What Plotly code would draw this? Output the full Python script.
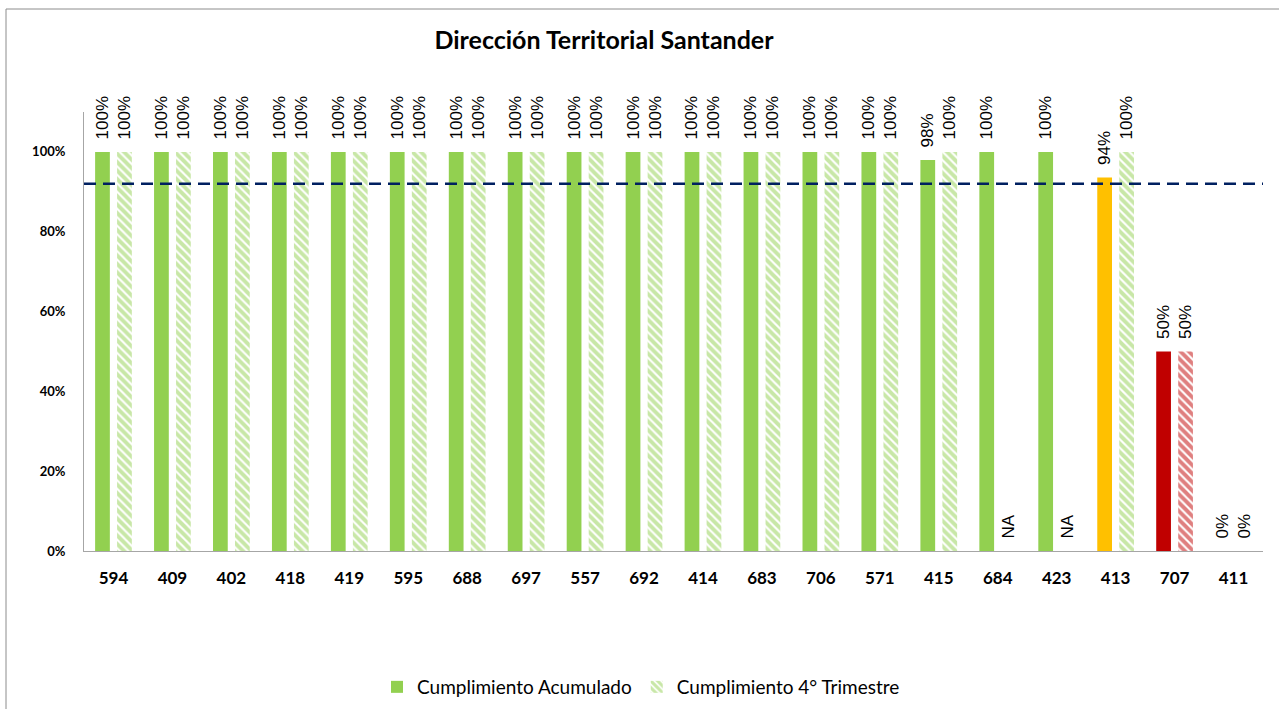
import plotly.graph_objects as go

# ---- data ----
categorias = ["594", "409", "402", "418", "419", "595", "688", "697", "557", "692",
              "414", "683", "706", "571", "415", "684", "423", "413", "707", "411"]
acumulado = [1.0, 1.0, 1.0, 1.0, 1.0, 1.0, 1.0, 1.0, 1.0, 1.0,
             1.0, 1.0, 1.0, 1.0, 0.98, 1.0, 1.0, 0.936, 0.50, 0.0]
trimestre4 = [1.0, 1.0, 1.0, 1.0, 1.0, 1.0, 1.0, 1.0, 1.0, 1.0,
              1.0, 1.0, 1.0, 1.0, 1.0, None, None, 1.0, 0.50, 0.0]
meta = 0.92
y_ticks = [0, 0.2, 0.4, 0.6, 0.8, 1.0]
y_tick_labels = ["0%", "20%", "40%", "60%", "80%", "100%"]

VERDE = "#92D050"
NARANJA = "#FFC000"
ROJO = "#C00000"


def color_acum(v):
    if v >= 0.95:
        return VERDE
    if v >= 0.9:
        return NARANJA
    return ROJO


def color_trim(v):
    if v is None or v >= 0.9:
        return VERDE
    return ROJO


PAD = "\u00a0\u00a0"


def etiqueta(v):
    return PAD + ("NA" if v is None else f"{v:.0%}")


W, H = 1279, 709
L, R, T, B = 84, 16, 112, 158
pw = W - L - R
ph = H - T - B

LABEL_FONT = dict(family="Liberation Sans", size=17, color="black")

fig = go.Figure()
fig.add_trace(go.Bar(
    x=categorias, y=acumulado, name="Cumplimiento Acumulado",
    marker=dict(color=[color_acum(v) for v in acumulado], line=dict(width=0)),
    text=[etiqueta(v) for v in acumulado], textposition="outside", textangle=-90,
    constraintext="none", textfont=LABEL_FONT, cliponaxis=False,
))
fig.add_trace(go.Bar(
    x=categorias, y=[0 if v is None else v for v in trimestre4],
    name="Cumplimiento 4° Trimestre",
    marker=dict(color="white",
                line=dict(width=0),
                pattern=dict(shape="\\", fgcolor=[color_trim(v) for v in trimestre4],
                             bgcolor="white", size=6, solidity=0.65, fillmode="overlay")),
    text=[etiqueta(v) for v in trimestre4], textposition="outside", textangle=-90,
    constraintext="none", textfont=LABEL_FONT, cliponaxis=False,
))

# target line
fig.add_shape(type="line", xref="paper", yref="y", x0=0, x1=1, y0=meta, y1=meta,
              line=dict(color="#002060", width=2.5, dash="12px,7px"))

# outer border
fig.add_shape(type="rect", xref="paper", yref="paper",
              x0=(6 - L) / pw, x1=(W + 20 - L) / pw,
              y0=(H - B - (H + 20)) / ph, y1=(H - B - 9) / ph,
              line=dict(color="#8C8C8C", width=1), fillcolor="rgba(0,0,0,0)", layer="below")

fig.update_layout(
    width=W, height=H,
    margin=dict(l=L, r=R, t=T, b=B, autoexpand=False),
    paper_bgcolor="white", plot_bgcolor="white",
    barmode="group", bargap=0.254, bargroupgap=0.33,
    font=dict(family="Lato", color="black"),
    title=dict(text="<b>Dirección Territorial Santander</b>", font=dict(family="Lato", size=25, color="black"),
               xref="paper", x=(604 - L) / pw, xanchor="center",
               yref="container", y=1 - 40 / H, yanchor="middle", automargin=False),
    showlegend=True,
    legend=dict(orientation="h", xref="paper", x=(397 - 20 - L) / pw, xanchor="left",
                y=(H - B - 687) / ph, yanchor="middle",
                font=dict(family="Lato", size=19, color="black"),
                itemwidth=30),
    xaxis=dict(showline=True, linecolor="#A6A6A6", linewidth=1, ticks="",
               tickfont=dict(family="Lato", size=17, color="black"),
               showgrid=False, tickprefix="<b>", ticksuffix="</b>",
               ticklabelstandoff=12, automargin=False),
    yaxis=dict(range=[0, 1.1], tickvals=y_ticks, ticktext=[f"<b>{t}</b>" for t in y_tick_labels],
               showline=True, linecolor="#A6A6A6", linewidth=1, showgrid=False, zeroline=False,
               ticks="", ticklabelstandoff=15, automargin=False,
               tickfont=dict(family="Lato", size=13, color="black")),
)

fig.write_html("out.html", config={"displayModeBar": False},
               post_script="document.body.style.margin='0';document.body.style.overflow='hidden';")
